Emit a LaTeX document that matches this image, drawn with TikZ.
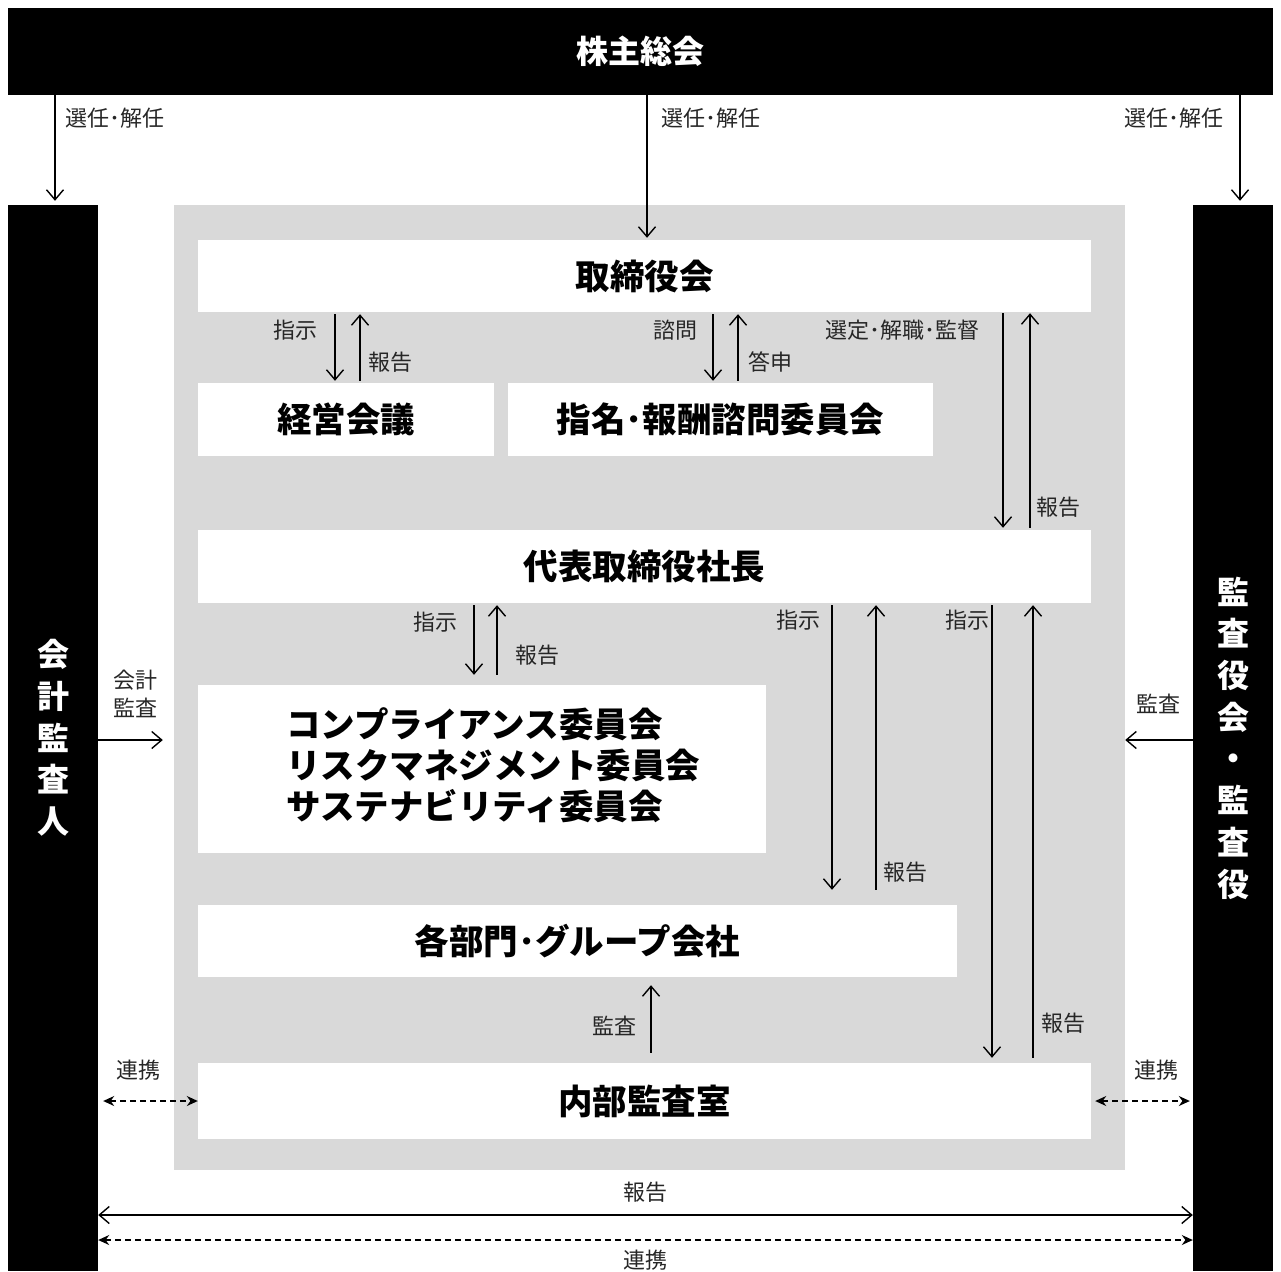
\documentclass[tikz,border=0pt]{standalone}
\usepackage{fontspec}
\setmainfont{Noto Sans CJK JP}
\usetikzlibrary{arrows.meta}
\definecolor{bg}{HTML}{D9D9D9}
\definecolor{lbltxt}{HTML}{262626}
\begin{document}
\begin{tikzpicture}[x=1pt,y=-1pt,
 bar/.style={fill=black,inner sep=0pt,text=white,align=center,font=\bfseries\fontsize{32}{41.7}\selectfont},
 wbox/.style={fill=white,inner sep=0pt,font=\bfseries\fontsize{34.5}{41}\selectfont},
 lbl/.style={inner sep=0pt,text=lbltxt,align=center,font=\fontsize{22}{28}\selectfont},
 arr/.style={line width=1.4pt,-{Straight Barb[length=10pt,width=17pt]}},
 arr2/.style={line width=1.4pt,{Straight Barb[length=10pt,width=17pt]}-{Straight Barb[length=10pt,width=17pt]}},
 darr/.style={line width=1.5pt,dash pattern=on 6pt off 4pt,{Stealth[length=11pt,width=10pt]}-{Stealth[length=11pt,width=10pt]}},
]
\useasboundingbox (0,0) rectangle (1281,1271);
% frame blocks
\node[bar,minimum width=1265,minimum height=87] (soukai) at (640.5,51.5) {株主総会};
\node[bar,minimum width=90,minimum height=1066] (kaikei) at (53,738) {会\\計\\監\\査\\人};
\node[bar,minimum width=80,minimum height=1066] (kansa) at (1233,738) {監\\査\\役\\会\\・\\監\\査\\役};
\node[fill=bg,inner sep=0pt,minimum width=951,minimum height=965] (area) at (649.5,687.5) {};
% white boxes
\node[wbox,minimum width=893,minimum height=72] (tori) at (644.5,276) {取締役会};
\node[wbox,minimum width=296,minimum height=73] (keiei) at (346,419.5) {経営会議};
\node[wbox,minimum width=425,minimum height=73] (shimei) at (720.5,419.5) {指名･報酬諮問委員会};
\node[wbox,minimum width=893,minimum height=73] (daihyo) at (644.5,566.5) {代表取締役社長};
\node[wbox,minimum width=568,minimum height=168] (iinkai) at (482,769) {};
\node[wbox,anchor=west,align=left] (iinkaitxt) at (286,765) {コンプライアンス委員会\\リスクマネジメント委員会\\サステナビリティ委員会};
\node[wbox,minimum width=759,minimum height=72] (kakubu) at (577.5,941) {各部門･グループ会社};
\node[wbox,minimum width=893,minimum height=76] (naibu) at (644.5,1101) {内部監査室};
% arrows from shareholders meeting
\draw[arr,shorten >=4pt] (soukai.south -| 55,0) -- (kaikei.north -| 55,0);
\draw[arr,shorten >=2pt] (soukai.south -| 647,0) -- (tori.north -| 647,0);
\draw[arr,shorten >=4pt] (soukai.south -| 1240,0) -- (kansa.north -| 1240,0);
% board <-> management
\draw[arr,shorten <=2pt,shorten >=2pt] (tori.south -| 335,0) -- (keiei.north -| 335,0);
\draw[arr,shorten <=2pt,shorten >=2pt] (keiei.north -| 360,0) -- (tori.south -| 360,0);
\draw[arr,shorten <=2pt,shorten >=2pt] (tori.south -| 713,0) -- (shimei.north -| 713,0);
\draw[arr,shorten <=2pt,shorten >=2pt] (shimei.north -| 738,0) -- (tori.south -| 738,0);
\draw[arr,shorten <=1pt,shorten >=2pt] (tori.south -| 1003,0) -- (daihyo.north -| 1003,0);
\draw[arr,shorten <=2pt,shorten >=1pt] (daihyo.north -| 1030,0) -- (tori.south -| 1030,0);
% president
\draw[arr,shorten <=2pt,shorten >=10pt] (daihyo.south -| 474,0) -- (iinkai.north -| 474,0);
\draw[arr,shorten <=10pt,shorten >=2pt] (iinkai.north -| 497,0) -- (daihyo.south -| 497,0);
\draw[arr,shorten <=2pt,shorten >=15pt] (daihyo.south -| 832,0) -- (kakubu.north -| 832,0);
\draw[arr,shorten <=15pt,shorten >=2pt] (kakubu.north -| 876,0) -- (daihyo.south -| 876,0);
\draw[arr,shorten <=2pt,shorten >=5pt] (daihyo.south -| 992,0) -- (naibu.north -| 992,0);
\draw[arr,shorten <=5pt,shorten >=2pt] (naibu.north -| 1033,0) -- (daihyo.south -| 1033,0);
\draw[arr,shorten <=10pt,shorten >=8pt] (naibu.north -| 651,0) -- (kakubu.south -| 651,0);
% audits
\draw[arr,shorten >=11pt] (kaikei.east |- 0,740) -- (area.west |- 0,740);
\draw[arr] (kansa.west |- 0,740) -- (area.east |- 0,740);
\draw[darr,shorten <=5pt] (kaikei.east |- naibu.west) -- (naibu.west);
\draw[darr,shorten <=4pt,shorten >=3pt] (naibu.east) -- (kansa.west |- naibu.east);
\draw[arr2] (kaikei.east |- 0,1215) -- (kansa.west |- 0,1215);
\draw[darr] (kaikei.east |- 0,1240) -- (kansa.west |- 0,1240);
% labels
\node[lbl] (l1) at (115,118) {選任･解任};
\node[lbl] (l2) at (711,118) {選任･解任};
\node[lbl] (l3) at (1174,118) {選任･解任};
\node[lbl] (l4) at (295,330) {指示};
\node[lbl] (l5) at (390,362) {報告};
\node[lbl] (l6) at (675,330) {諮問};
\node[lbl] (l7) at (770,362) {答申};
\node[lbl] (l8) at (902,330) {選定･解職･監督};
\node[lbl] (l9) at (1058,507) {報告};
\node[lbl] (l10) at (435,622) {指示};
\node[lbl] (l11) at (537,655) {報告};
\node[lbl] (l12) at (798,620) {指示};
\node[lbl] (l13) at (967,620) {指示};
\node[lbl] (l14) at (905,872) {報告};
\node[lbl] (l15) at (1063,1023) {報告};
\node[lbl] (l16) at (614,1026) {監査};
\node[lbl] (l17) at (135,694) {会計\\監査};
\node[lbl] (l18) at (1158,704) {監査};
\node[lbl] (l19) at (138,1070) {連携};
\node[lbl] (l20) at (1156,1070) {連携};
\node[lbl] (l21) at (645,1192) {報告};
\node[lbl] (l22) at (645,1260) {連携};
\end{tikzpicture}
\end{document}
